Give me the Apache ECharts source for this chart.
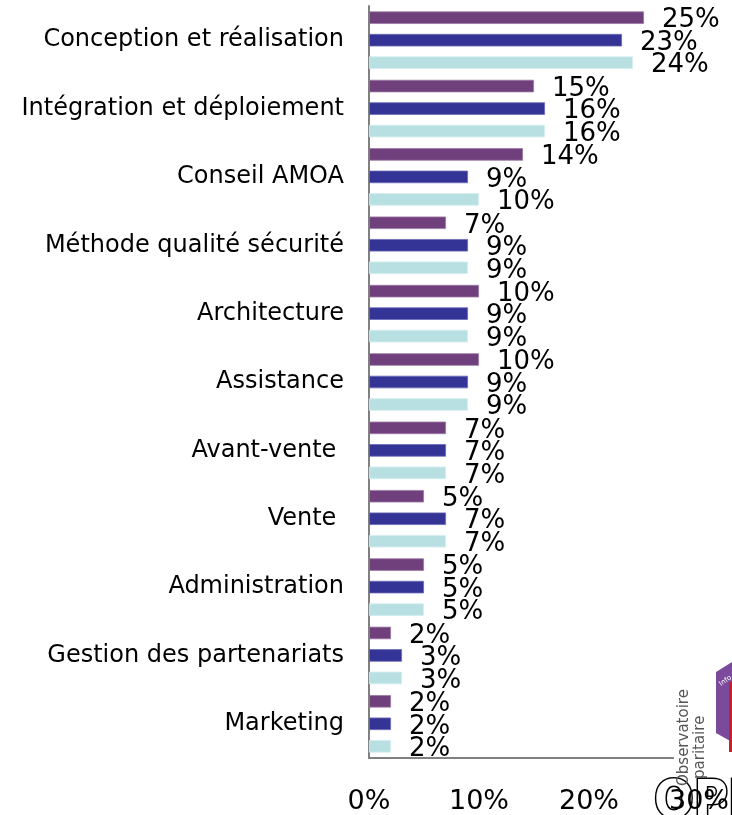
<!DOCTYPE html>
<html>
<head>
<meta charset="utf-8">
<script src="https://cdn.jsdelivr.net/npm/echarts@6/dist/echarts.min.js"></script>
<style>
  html, body { margin: 0; padding: 0; background: #fff; }
  #chart { width: 732px; height: 815px; }
</style>
</head>
<body>
<div id="chart"></div>
<script>
// Activity categories, top to bottom
var categories = [
  'Conception et réalisation',
  'Intégration et déploiement',
  'Conseil AMOA',
  'Méthode qualité sécurité',
  'Architecture',
  'Assistance',
  'Avant-vente ',
  'Vente ',
  'Administration',
  'Gestion des partenariats',
  'Marketing'
];

// Shares (%) for the three series in each category
var seriesA = [25, 15, 14, 7, 10, 10, 7, 5, 5, 2, 2];
var seriesB = [23, 16, 9, 9, 9, 9, 7, 7, 5, 3, 2];
var seriesC = [24, 16, 10, 9, 9, 9, 7, 7, 5, 3, 2];

// Axis ticks
var axisMin = 0;
var axisMax = 30;
var axisStep = 10;

var colors = ['#70407c', '#343496', '#b8e0e2'];
var borders = ['#9a78a4', '#6a6ab8', '#d4eef0'];
var font = 'DejaVu Sans';

function barSeries(name, values, i) {
  return {
    name: name,
    type: 'bar',
    data: values,
    barWidth: 12.5,
    barGap: '80%',
    itemStyle: { color: colors[i], borderColor: borders[i], borderWidth: 0.8 },
    label: {
      show: true,
      position: 'right',
      distance: 18,
      offset: [0, 3],
      formatter: '{c}%',
      fontSize: 26,
      fontFamily: font,
      color: '#000'
    },
    emphasis: { disabled: true }
  };
}

var chart = echarts.init(document.getElementById('chart'), null, { renderer: 'canvas' });

chart.setOption({
  animation: false,
  backgroundColor: '#fff',
  textStyle: { fontFamily: font },
  grid: { left: 369, right: 31, top: 6, bottom: 57, containLabel: false },
  xAxis: {
    type: 'value',
    min: axisMin,
    max: axisMax,
    interval: axisStep,
    splitLine: { show: false },
    axisTick: { show: false },
    axisLine: { show: true, lineStyle: { color: '#808080', width: 2 } },
    axisLabel: {
      formatter: '{value}%',
      fontSize: 27,
      fontFamily: font,
      color: '#000',
      margin: 30
    }
  },
  yAxis: {
    type: 'category',
    inverse: true,
    data: categories,
    axisTick: { show: false },
    axisLine: { show: true, lineStyle: { color: '#808080', width: 2 } },
    axisLabel: {
      fontSize: 24,
      fontFamily: font,
      color: '#000',
      margin: 25,
      padding: [7, 0, 0, 0]
    }
  },
  series: [
    barSeries('A', seriesA, 0),
    barSeries('B', seriesB, 1),
    barSeries('C', seriesC, 2)
  ],
  graphic: [
    // logo block in the lower right corner
    { type: 'text', z: -1, x: 654, y: 777, style: { text: 'OPI', fontSize: 52, fontWeight: 'bold', fill: '#fff', stroke: '#000', lineWidth: 3, fontFamily: 'DejaVu Sans Condensed', verticalAlign: 'top' } },
    { type: 'rect', z: 50, shape: { x: 674, y: 660, width: 58, height: 110 }, style: { fill: '#fff' } },
    { type: 'polygon', z: 51, shape: { points: [[716, 672], [732, 662], [732, 742], [716, 733]] }, style: { fill: '#7b4a9b' } },
    { type: 'rect', z: 52, shape: { x: 729, y: 682, width: 3, height: 70 }, style: { fill: '#c8202a' } },
    { type: 'text', z: 53, x: 718, y: 682, rotation: Math.PI / 5, style: { text: 'Info', fontSize: 7, fill: '#fff', fontFamily: font } },
    { type: 'text', z: 53, x: 677, y: 786, rotation: Math.PI / 2, style: { text: 'Observatoire', fontSize: 15, fill: '#555', fontFamily: font, verticalAlign: 'top' } },
    { type: 'text', z: 53, x: 693, y: 779, rotation: Math.PI / 2, style: { text: 'paritaire', fontSize: 15, fill: '#555', fontFamily: font, verticalAlign: 'top' } }
  ]
});
</script>
</body>
</html>
